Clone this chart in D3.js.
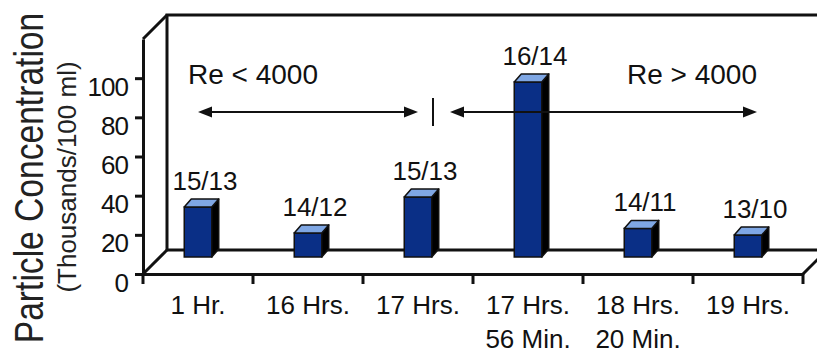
<!DOCTYPE html>
<html>
<head>
<meta charset="utf-8">
<script src="https://cdn.jsdelivr.net/npm/d3@7"></script>
<style>
    html, body { margin: 0; padding: 0; background: #fff; }
    svg { display: block; }
</style>
</head>
<body>
<div id="chart"></div>
<script>
"use strict"

// Chart data.
const categories = [["1 Hr."], ["16 Hrs."], ["17 Hrs."], ["17 Hrs.", "56 Min."], ["18 Hrs.", "20 Min."], ["19 Hrs."]];
const concentration = [25.5, 12.3, 30.6, 89.4, 14.6, 11.2];
const barLabels = ["15/13", "14/12", "15/13", "16/14", "14/11", "13/10"];
const yTicks = [0, 20, 40, 60, 80, 100];
const regimeLabels = ["Re < 4000", "Re > 4000"];
const axisTitle = "Particle Concentration";
const axisSubtitle = "(Thousands/100 ml)";

const W = 817, H = 356;
const ink = "#111";
const navy = "#0a2f86";
const lightBlue = "#7fa7e4";

const keys = categories.map(c => c.join(" "));

const svg = d3.select("#chart").append("svg")
    .attr("width", W)
    .attr("height", H)
    .style("font-family", "'Liberation Sans', Arial, sans-serif");

let x = d3.scaleBand().domain(keys).range([143, 803]);
let y = d3.scaleLinear().domain([0, 120]).range([274, 39]);

// 3D offsets: the floor/wall depth, and the small depth of each bar.
let depth = {dx: 24, dy: -24};
let barDepth = {dx: 7, dy: -8};
let barLift = 17;                      // bars stand near the back of the floor
let barW = x.bandwidth() * 0.25;

let xL = x.range()[0], xR = x.range()[1];
let yTop = y(120), yBase = y(0);

// Walls and floor.
let frame = svg.append("g")
    .attr("fill", "none")
    .attr("stroke", ink)
    .attr("stroke-width", 3);

frame.append("path")
    .attr("d", `M${xR + depth.dx},${yTop + depth.dy}H${xL + depth.dx}V${yBase + depth.dy}H${xR + depth.dx}`);
frame.append("path")
    .attr("d", `M${xL},${yTop}L${xL + depth.dx},${yTop + depth.dy}`);
frame.append("path")
    .attr("d", `M${xL},${yBase}L${xL + depth.dx},${yBase + depth.dy}`);
frame.append("path")
    .attr("d", `M${xR},${yBase}L${xR + depth.dx},${yBase + depth.dy}`);

// Y axis.
let yAxis = svg.append("g")
    .attr("transform", `translate(${xL},0)`)
    .call(d3.axisLeft(y).tickValues(yTicks).tickSize(8).tickSizeOuter(0).tickPadding(7));
yAxis.select(".domain").attr("stroke", ink).attr("stroke-width", 3);
yAxis.selectAll(".tick line").attr("stroke", ink).attr("stroke-width", 3);
yAxis.selectAll(".tick text")
    .attr("dy", 17)
    .attr("fill", ink)
    .style("font-size", "26px")
    .style("letter-spacing", "-1px");

// X axis.
let xAxis = svg.append("g")
    .attr("transform", `translate(0,${yBase})`)
    .call(d3.axisBottom(x).tickSize(0).tickSizeOuter(0).tickPadding(0));
xAxis.select(".domain").attr("stroke", ink).attr("stroke-width", 3);
xAxis.selectAll(".tick text").each(function(d, i) {
    let t = d3.select(this).text(null)
        .attr("y", 0).attr("dy", null)
        .attr("fill", ink)
        .style("font-size", "26px");
    categories[i].forEach((line, j) => {
        t.append("tspan").attr("x", 0).attr("y", 40 + j * 34).text(line);
    });
});

let bounds = keys.map(k => x(k)).concat([xR]);
svg.append("g").selectAll("line").data(bounds).enter().append("line")
    .attr("x1", d => d).attr("x2", d => d)
    .attr("y1", yBase).attr("y2", yBase + 10)
    .attr("stroke", ink)
    .attr("stroke-width", 3);

// Bars.
let bars = svg.append("g").selectAll("g").data(concentration).enter().append("g");

function barGeom(d, i) {
    let xl = x(keys[i]) + (x.bandwidth() - barW) / 2;
    let xr = xl + barW;
    let base = yBase - barLift;
    let top = y(d) - barLift;
    return {xl, xr, base, top};
}

bars.append("rect")
    .attr("x", (d, i) => barGeom(d, i).xl)
    .attr("y", (d, i) => barGeom(d, i).top)
    .attr("width", barW)
    .attr("height", d => yBase - y(d))
    .attr("fill", navy)
    .attr("stroke", ink)
    .attr("stroke-width", 1.5);

bars.append("path")
    .attr("d", (d, i) => {
        let g = barGeom(d, i);
        return `M${g.xr},${g.top}l${barDepth.dx},${barDepth.dy}V${g.base + barDepth.dy}L${g.xr},${g.base}Z`;
    })
    .attr("fill", "#000")
    .attr("stroke", ink)
    .attr("stroke-width", 1.5)
    .attr("stroke-linejoin", "round");

bars.append("path")
    .attr("d", (d, i) => {
        let g = barGeom(d, i);
        return `M${g.xl},${g.top}l${barDepth.dx},${barDepth.dy}H${g.xr + barDepth.dx}L${g.xr},${g.top}Z`;
    })
    .attr("fill", lightBlue)
    .attr("stroke", ink)
    .attr("stroke-width", 1.5)
    .attr("stroke-linejoin", "round");

bars.append("text")
    .attr("x", (d, i) => x(keys[i]) + x.bandwidth() / 2 + 7)
    .attr("y", (d, i) => barGeom(d, i).top + barDepth.dy - 9)
    .attr("text-anchor", "middle")
    .attr("fill", ink)
    .style("font-size", "26px")
    .text((d, i) => barLabels[i]);

// Reynolds-number regime annotation.
let cx = i => x(keys[i]) + x.bandwidth() / 2;
let arrowY = y(82.7);
let ann = svg.append("g");

function arrow(x1, x2) {
    ann.append("line")
        .attr("x1", x1 + 8).attr("x2", x2 - 8)
        .attr("y1", arrowY).attr("y2", arrowY)
        .attr("stroke", ink)
        .attr("stroke-width", 2);
    ann.append("path")
        .attr("d", `M${x1},${arrowY}l14,-5.5v11Z`)
        .attr("fill", ink);
    ann.append("path")
        .attr("d", `M${x2},${arrowY}l-14,-5.5v11Z`)
        .attr("fill", ink);
}
arrow(cx(0), cx(2));
arrow(cx(2) + 32, cx(5) + 9);

ann.append("line")
    .attr("x1", cx(2) + 15).attr("x2", cx(2) + 15)
    .attr("y1", arrowY - 14).attr("y2", arrowY + 14)
    .attr("stroke", ink)
    .attr("stroke-width", 2);

ann.append("text")
    .attr("x", cx(0) - 10)
    .attr("y", arrowY - 28)
    .attr("fill", ink)
    .style("font-size", "28px")
    .text(regimeLabels[0]);
ann.append("text")
    .attr("x", cx(5) + 9)
    .attr("y", arrowY - 28)
    .attr("text-anchor", "end")
    .attr("fill", ink)
    .style("font-size", "28px")
    .text(regimeLabels[1]);

// Axis titles (the big one is set in a narrow cut, so squeeze it sideways).
svg.append("text")
    .attr("transform", "translate(43,178) rotate(-90) scale(0.84,1)")
    .attr("text-anchor", "middle")
    .attr("fill", "#222")
    .style("font-size", "40px")
    .text(axisTitle);
svg.append("text")
    .attr("transform", "translate(76,177) rotate(-90)")
    .attr("text-anchor", "middle")
    .attr("fill", "#222")
    .style("font-size", "26px")
    .text(axisSubtitle);
</script>
</body>
</html>
